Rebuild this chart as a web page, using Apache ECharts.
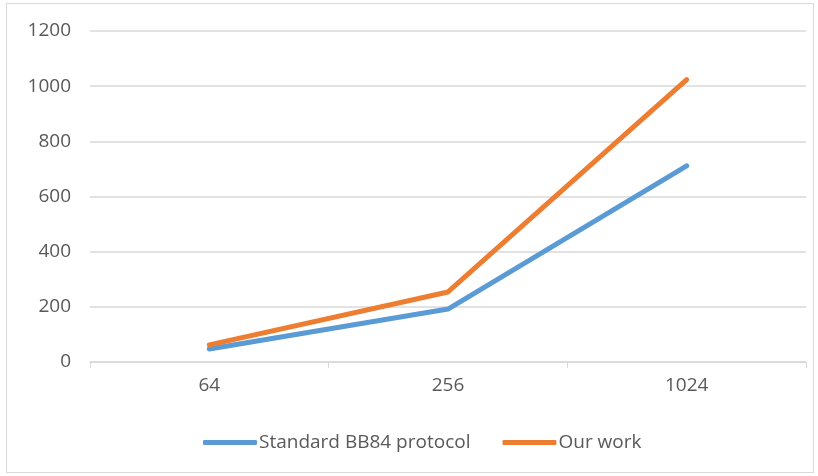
<!DOCTYPE html>
<html>
<head>
<meta charset="utf-8">
<script src="https://cdn.jsdelivr.net/npm/echarts@6/dist/echarts.min.js"></script>
<style>
  html, body { margin: 0; padding: 0; background: #fff; }
  #frame { position: absolute; left: 6px; top: 3px; width: 808px; height: 470px; border: 1px solid #d9d9d9; box-sizing: border-box; }
  #chart { position: absolute; left: 0; top: 0; width: 818px; height: 476px; }
</style>
</head>
<body>
<div id="frame"></div>
<div id="chart"></div>
<script>
// 数据
const categories = ['64', '256', '1024']
const standardBB84 = [47, 192, 711]
const ourWork = [62, 254, 1024]

const chart = echarts.init(document.getElementById('chart'))
const font = "'Open Sans', 'Liberation Sans', sans-serif"

const option = {
  animation: false,
  grid: { left: 90, right: 12, top: 31, bottom: 114 },
  legend: {
    top: 428,
    left: 198,
    itemWidth: 54,
    itemHeight: 5,
    itemGap: 32,
    icon: 'roundRect',
    textStyle: { color: '#595959', fontSize: 19, fontFamily: font, padding: [0, 0, 0, -3] },
    data: ['Standard BB84 protocol', 'Our work']
  },
  xAxis: {
    type: 'category',
    data: categories,
    boundaryGap: true,
    axisLine: { lineStyle: { color: '#d9d9d9', width: 1.5 } },
    axisTick: { show: true, length: 6, lineStyle: { color: '#d9d9d9' } },
    axisLabel: { color: '#595959', fontSize: 19, fontFamily: font, margin: 14 }
  },
  yAxis: {
    type: 'value',
    min: 0,
    max: 1200,
    interval: 200,
    axisLine: { show: false },
    axisTick: { show: false },
    axisLabel: { color: '#595959', fontSize: 19, fontFamily: font, margin: 19, formatter: v => String(v) },
    splitLine: { lineStyle: { color: '#d9d9d9', width: 1.5 } }
  },
  series: [
    {
      name: 'Standard BB84 protocol',
      type: 'line',
      data: standardBB84,
      symbol: 'none',
      itemStyle: { color: '#5b9bd5' },
      lineStyle: { color: '#5b9bd5', width: 5, cap: 'round', join: 'round' }
    },
    {
      name: 'Our work',
      type: 'line',
      data: ourWork,
      symbol: 'none',
      itemStyle: { color: '#ed7d31' },
      lineStyle: { color: '#ed7d31', width: 5, cap: 'round', join: 'round' }
    }
  ]
}

chart.setOption(option)
</script>
</body>
</html>
